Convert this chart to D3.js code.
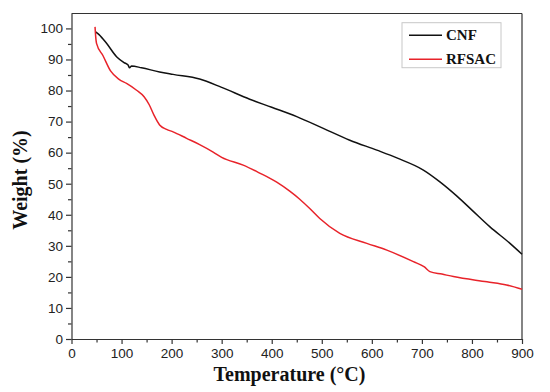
<!DOCTYPE html>
<html>
<head>
<meta charset="utf-8">
<script src="https://cdn.jsdelivr.net/npm/d3@7"></script>
<style>
  body { margin: 0; background: #fff; }
  .tick text { font-family: "Liberation Sans", Arial, sans-serif; font-size: 13.5px; fill: #222; }
  .title { font-family: "Liberation Serif", "Times New Roman", serif; font-weight: bold; fill: #111; }
</style>
</head>
<body>
<div id="chart"></div>
<script>
// TGA data
const cnfTemp = [48, 55, 70, 90, 105, 113, 116, 120, 140, 176, 203, 256, 300, 356, 400, 450, 503, 556, 610, 650, 703, 736, 770, 800, 836, 876, 900]
const cnfWeight = [98.9, 98, 95.2, 90.9, 89, 88.2, 87.3, 87.9, 87.3, 86.0, 85.2, 83.7, 81.0, 77.2, 74.6, 71.6, 67.8, 64.0, 60.8, 58.3, 54.4, 50.6, 46, 41.5, 36.1, 30.8, 27.3]

const rfTemp = [47, 48, 50, 63, 78, 95, 110, 130, 145, 155, 165, 176, 190, 203, 230, 256, 283, 300, 343, 375, 410, 436, 456, 476, 496, 536, 590, 630, 683, 705, 716, 740, 763, 830, 869, 900]
const rfWeight = [100.5, 98, 95.2, 91.2, 86.3, 83.6, 82.3, 80.1, 78, 75.5, 72, 68.9, 67.5, 66.7, 64.6, 62.6, 60.2, 58.5, 56.0, 53.5, 50.5, 47.6, 45.0, 42.0, 38.8, 34.0, 30.8, 28.6, 24.9, 23.2, 21.7, 20.9, 20.1, 18.4, 17.4, 16.0]

const seriesNames = ["CNF", "RFSAC"]
const seriesColors = ["#111111", "#e8232a"]

const xTicks = [0, 100, 200, 300, 400, 500, 600, 700, 800, 900]
const yTicks = [0, 10, 20, 30, 40, 50, 60, 70, 80, 90, 100]

//set up the dimensions of the chart
const margin = {top: 13.5, right: 28, bottom: 53, left: 71.5}
const width = 550 - margin.left - margin.right
const height = 392 - margin.top - margin.bottom

const svg = d3.select("#chart").append("svg")
    .attr("width", 550)
    .attr("height", 392)
  .append("g")
    .attr("transform", "translate(" + margin.left + "," + margin.top + ")")

// scales
const x = d3.scaleLinear().domain([0, 900]).range([0, width])
const y = d3.scaleLinear().domain([0, 104.8]).range([height, 0])

// minor ticks first (shorter)
svg.append("g")
    .attr("transform", "translate(0," + height + ")")
    .call(d3.axisBottom(x).tickValues(d3.range(50, 900, 100)).tickSize(3.5).tickFormat(""))
    .call(g => g.select(".domain").remove())
svg.append("g")
    .call(d3.axisLeft(y).tickValues(d3.range(5, 100, 10)).tickSize(3.5).tickFormat(""))
    .call(g => g.select(".domain").remove())

// main axes
svg.append("g")
    .attr("transform", "translate(0," + height + ")")
    .call(d3.axisBottom(x).tickValues(xTicks).tickSize(5).tickPadding(4).tickSizeOuter(0))
svg.append("g")
    .call(d3.axisLeft(y).tickValues(yTicks).tickSize(5.5).tickPadding(3).tickSizeOuter(0))

svg.selectAll(".domain, .tick line").attr("stroke", "#333").attr("stroke-width", 1.2)

// frame top and right
svg.append("line").attr("x1", 0).attr("x2", width).attr("y1", 0).attr("y2", 0)
    .attr("stroke", "#333").attr("stroke-width", 1.2)
svg.append("line").attr("x1", width).attr("x2", width).attr("y1", 0).attr("y2", height)
    .attr("stroke", "#333").attr("stroke-width", 1.2)

// lines
const line = d3.line()
    .x(d => x(d[0]))
    .y(d => y(d[1]))
    .curve(d3.curveMonotoneX)

const series = [
  d3.zip(cnfTemp, cnfWeight),
  d3.zip(rfTemp, rfWeight)
]

series.forEach((s, i) => {
  svg.append("path")
      .datum(s)
      .attr("fill", "none")
      .attr("stroke", seriesColors[i])
      .attr("stroke-width", 1.5)
      .attr("d", line)
})

// axis titles
svg.append("text")
    .attr("class", "title")
    .attr("x", 218)
    .attr("y", height + 42)
    .attr("text-anchor", "middle")
    .style("font-size", "20px")
    .text("Temperature (°C)")

svg.append("text")
    .attr("class", "title")
    .attr("transform", "translate(" + (27 - margin.left) + "," + (180 - margin.top) + ") rotate(-90)")
    .attr("text-anchor", "middle")
    .style("font-size", "20px")
    .text("Weight (%)")

// legend
const legend = svg.append("g")
    .attr("transform", "translate(" + (402 - margin.left) + "," + (22.7 - margin.top) + ")")

legend.append("rect")
    .attr("width", 99)
    .attr("height", 45)
    .attr("fill", "#fff")
    .attr("stroke", "#c8c8c8")
    .attr("stroke-width", 1)

seriesNames.forEach((name, i) => {
  const yy = 12.5 + i * 24
  legend.append("line")
      .attr("x1", 7).attr("x2", 40)
      .attr("y1", yy).attr("y2", yy)
      .attr("stroke", seriesColors[i])
      .attr("stroke-width", 1.5)
  legend.append("text")
      .attr("class", "title")
      .attr("x", 44)
      .attr("y", yy + 5)
      .style("font-size", "15px")
      .text(name)
})
</script>
</body>
</html>
